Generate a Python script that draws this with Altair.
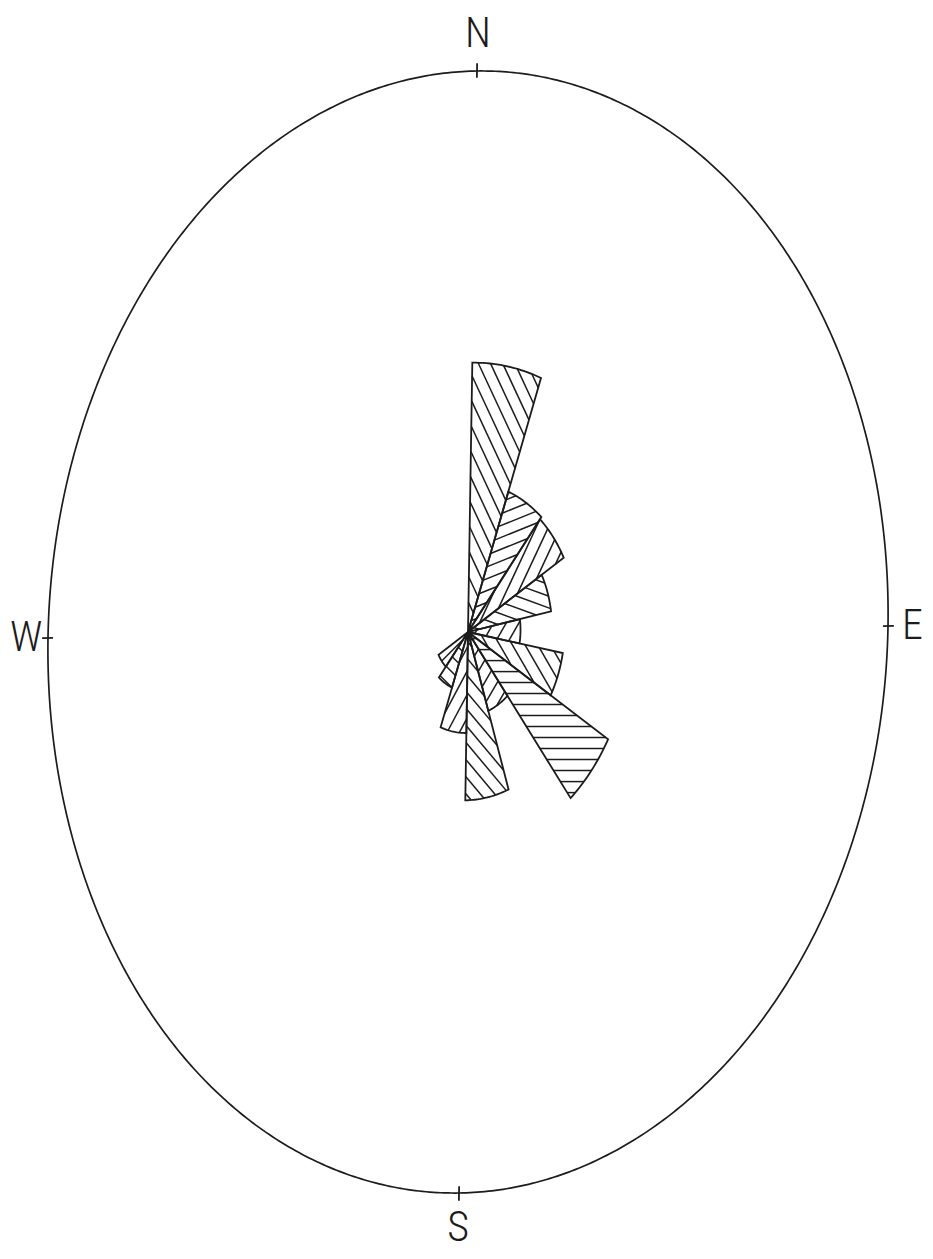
import math
import altair as alt
import pandas as pd

# ---- Rose diagram data (direction classes, degrees clockwise from North) ----
bin_start = [0, 20, 40, 60, 80, 100, 120, 140, 160, 180, 200, 220]
bin_end = [20, 40, 60, 80, 100, 120, 140, 160, 180, 200, 220, 240]
# petal length as fraction of the outer circle radius
petal_len = [0.48, 0.265, 0.26, 0.20, 0.125, 0.23, 0.39, 0.15, 0.30, 0.18, 0.105, 0.08]
# hatch direction of each petal (degrees from horizontal)
hatch_deg = [-65, 22, 65, -20, 60, -60, 0, 60, -50, 62, -45, 45]

compass_labels = ["N", "E", "S", "W"]
compass_deg = [0, 90, 180, 270]

# ---- drawing geometry (scanned plot is stretched into an ellipse) ----
CX, CY = 468.0, 632.0
RX, RY = 420.0, 561.0
SHX, SHY = 9.0, -6.0
HATCH_GAP = 11.0
INK = "#1c1c1c"
LABEL_R = {"N": 1.102, "E": 1.058, "S": 1.101, "W": 1.052}
FONT = "Roboto Condensed, Liberation Sans Narrow, DejaVu Sans Condensed, sans-serif"


def proj(theta, r):
    t = math.radians(theta)
    u, v = r * math.sin(t), r * math.cos(t)
    return CX + RX * u + SHX * v, CY - RY * v + SHY * u


# outer circle
ell_rows = []
for i in range(0, 721):
    x, y = proj(i * 0.5, 1.0)
    ell_rows.append({"x": x, "y": y, "o": i})
ell_df = pd.DataFrame(ell_rows)

# petals (closed polygons) + hatch lines clipped to each petal
pet_rows = []
hatch_rows = []
for k, (a0, a1, r, hd) in enumerate(zip(bin_start, bin_end, petal_len, hatch_deg)):
    poly = [proj(0, 0)]
    n = 20
    for j in range(n + 1):
        poly.append(proj(a0 + (a1 - a0) * j / n, r))
    poly.append(proj(0, 0))
    for s, (x, y) in enumerate(poly):
        pet_rows.append({"x": x, "y": y, "w": k, "o": s})
    # hatch
    h = math.radians(hd)
    d = (math.cos(h), -math.sin(h))
    nv = (-d[1], d[0])
    pts = poly[:-1]
    proj_n = [p[0] * nv[0] + p[1] * nv[1] for p in pts]
    cmin, cmax = min(proj_n), max(proj_n)
    c = cmin + HATCH_GAP * 0.6
    while c < cmax:
        inter = []
        m = len(pts)
        for i in range(m):
            p1, p2 = pts[i], pts[(i + 1) % m]
            f1 = p1[0] * nv[0] + p1[1] * nv[1] - c
            f2 = p2[0] * nv[0] + p2[1] * nv[1] - c
            if (f1 <= 0 < f2) or (f2 <= 0 < f1):
                t = f1 / (f1 - f2)
                inter.append((p1[0] + t * (p2[0] - p1[0]), p1[1] + t * (p2[1] - p1[1])))
        if len(inter) >= 2:
            inter.sort(key=lambda p: p[0] * d[0] + p[1] * d[1])
            a, b = inter[0], inter[-1]
            if math.hypot(b[0] - a[0], b[1] - a[1]) > 2:
                hatch_rows.append({"x": a[0], "y": a[1], "x2": b[0], "y2": b[1]})
        c += HATCH_GAP
pet_df = pd.DataFrame(pet_rows)
hatch_df = pd.DataFrame(hatch_rows)

# compass ticks and labels
tick_rows, lab_rows = [], []
for lab, deg in zip(compass_labels, compass_deg):
    x1, y1 = proj(deg, 0.988)
    x2, y2 = proj(deg, 1.014)
    tick_rows.append({"x": x1, "y": y1, "x2": x2, "y2": y2})
    lx, ly = proj(deg, LABEL_R[lab])
    lab_rows.append({"x": lx, "y": ly, "t": lab})
tick_df = pd.DataFrame(tick_rows)
lab_df = pd.DataFrame(lab_rows)

W, H = 917, 1243
xs = alt.Scale(domain=[8, 8 + W], nice=False, zero=False)
ys = alt.Scale(domain=[8, 8 + H], nice=False, zero=False, reverse=True)
X = lambda f="x": alt.X(f"{f}:Q", scale=xs, axis=None)
Y = lambda f="y": alt.Y(f"{f}:Q", scale=ys, axis=None)

ellipse = alt.Chart(ell_df).mark_line(color=INK, strokeWidth=1.7).encode(
    x=X(), y=Y(), order="o:Q"
)
petals = alt.Chart(pet_df).mark_line(color=INK, strokeWidth=1.8).encode(
    x=X(), y=Y(), detail="w:N", order="o:Q"
)
hatch = alt.Chart(hatch_df).mark_rule(color=INK, strokeWidth=1.5).encode(
    x=X(), y=Y(), x2="x2:Q", y2="y2:Q"
)
ticks = alt.Chart(tick_df).mark_rule(color=INK, strokeWidth=1.8).encode(
    x=X(), y=Y(), x2="x2:Q", y2="y2:Q"
)


def label_layer(names, baseline):
    return alt.Chart(lab_df).transform_filter(
        alt.FieldOneOfPredicate(field="t", oneOf=names)
    ).mark_text(
        color=INK, fontSize=42, font=FONT, fontWeight=300,
        baseline=baseline, align="center"
    ).encode(x=X(), y=Y(), text="t:N")


labels = alt.layer(
    label_layer(["N"], "top"),
    label_layer(["S"], "bottom"),
    label_layer(["E", "W"], "middle"),
)

chart = alt.layer(ellipse, petals, hatch, ticks, labels).properties(
    width=W, height=H, autosize=alt.AutoSizeParams(type="none"), padding=0,
    background="white"
).configure_view(stroke=None)

chart.save("out.html", embed_options={"renderer": "svg", "actions": False})
